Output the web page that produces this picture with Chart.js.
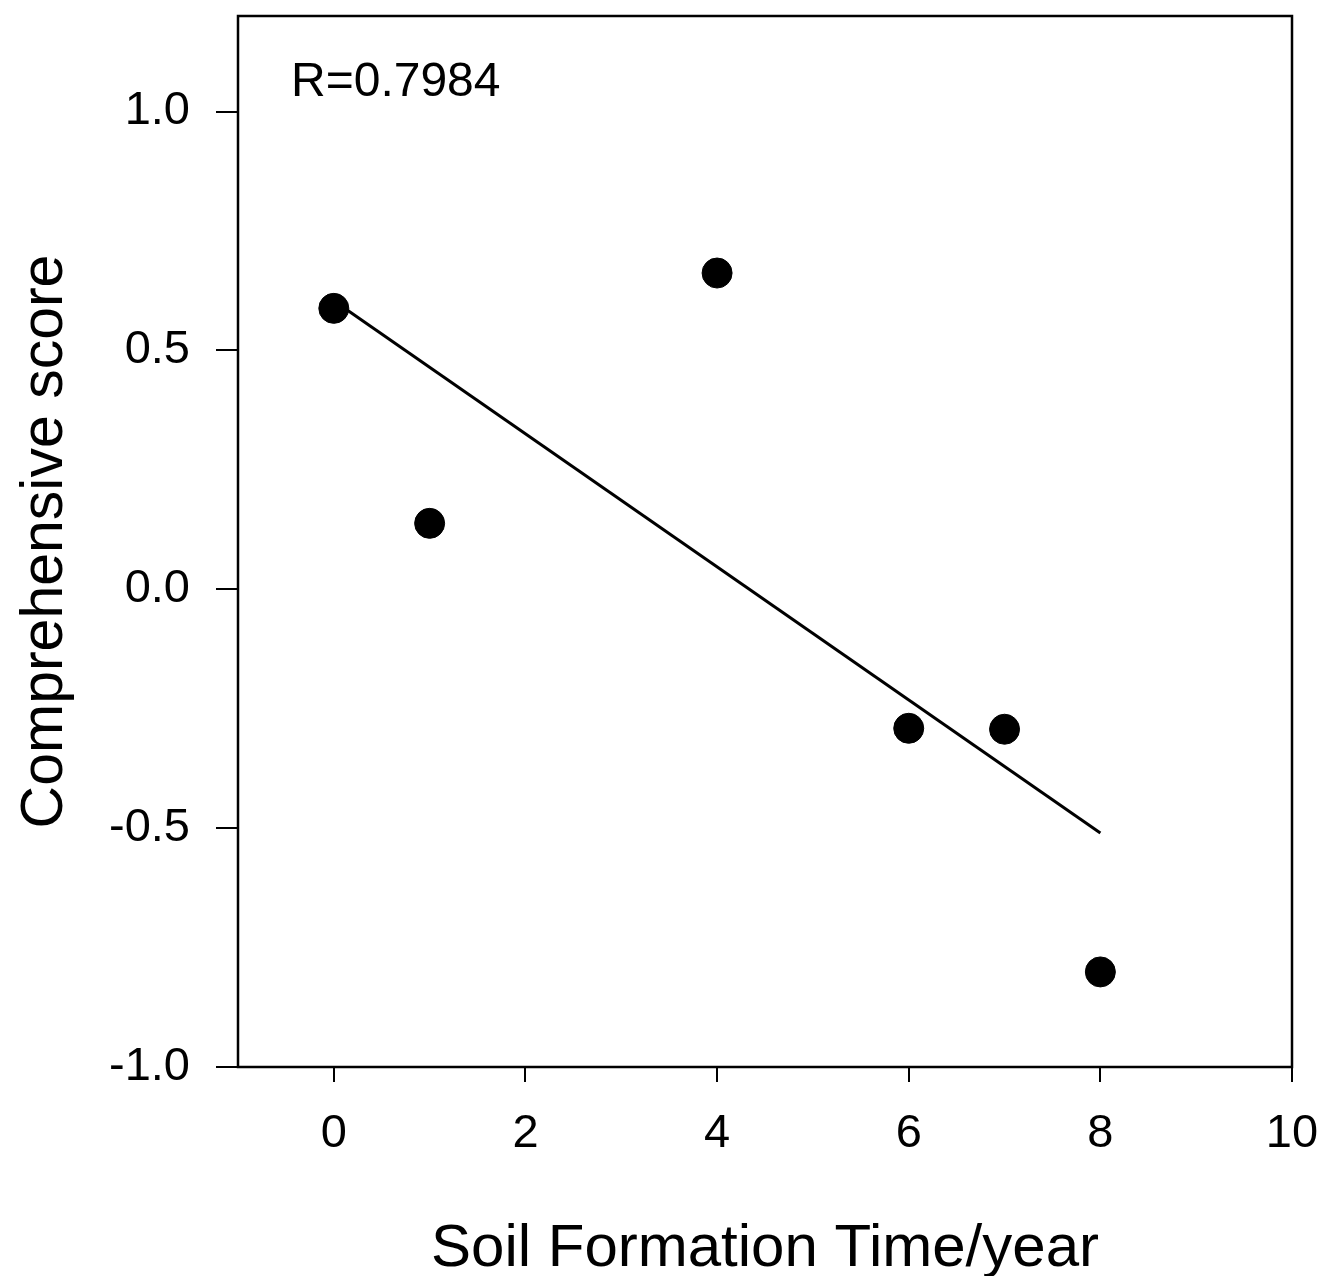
<!DOCTYPE html>
<html>
<head>
<meta charset="utf-8">
<script src="https://cdn.jsdelivr.net/npm/chart.js@4.4.1/dist/chart.umd.min.js"></script>
<style>
    html, body { margin: 0; padding: 0; background: #fff; }
    #wrap { width: 1323px; height: 1276px; }
</style>
</head>
<body>
<div id="wrap"><canvas id="chart" width="1323" height="1276"></canvas></div>
<script>
// Data
const years = [0, 1, 4, 6, 7, 8];
const scores = [0.588, 0.138, 0.662, -0.291, -0.293, -0.801];
// fitted line end points
const fitYears = [0, 8];
const fitScores = [0.604, -0.51];
// tick labels
const xTicks = [0, 2, 4, 6, 8, 10];
const yTicks = [-1.0, -0.5, 0.0, 0.5, 1.0];
const rText = 'R=0.7984';

const FONT = '"Liberation Sans", Arial, sans-serif';

// box around the plot + R label
const framePlugin = {
    id: 'frame',
    afterDraw(chart) {
        const { ctx, chartArea } = chart;
        ctx.save();
        ctx.strokeStyle = '#000';
        ctx.lineWidth = 2.5;
        ctx.strokeRect(chartArea.left, chartArea.top, chartArea.right - chartArea.left, chartArea.bottom - chartArea.top);
        ctx.fillStyle = '#000';
        ctx.font = '48px ' + FONT;
        ctx.textAlign = 'left';
        ctx.textBaseline = 'alphabetic';
        ctx.fillText(rText, chartArea.left + 53, chartArea.top + 80);
        ctx.restore();
    }
};

const ctx = document.getElementById('chart').getContext('2d');
new Chart(ctx, {
    type: 'scatter',
    data: {
        datasets: [
            {
                label: 'Comprehensive score',
                data: years.map((x, i) => ({ x: x, y: scores[i] })),
                backgroundColor: '#000',
                borderColor: '#000',
                pointRadius: 15,
                pointBorderWidth: 1,
                showLine: false
            },
            {
                label: 'Fit',
                data: fitYears.map((x, i) => ({ x: x, y: fitScores[i] })),
                type: 'line',
                borderColor: '#000',
                borderWidth: 3,
                pointRadius: 0,
                fill: false,
                tension: 0
            }
        ]
    },
    options: {
        responsive: false,
        animation: false,
        layout: {
            padding: { left: 0, top: 13, right: 31, bottom: 0 }
        },
        plugins: {
            legend: { display: false },
            tooltip: { enabled: false }
        },
        scales: {
            x: {
                type: 'linear',
                min: -1,
                max: 10,
                afterBuildTicks: (scale) => { scale.ticks = xTicks.map(v => ({ value: v })); },
                afterFit: (scale) => {
                    scale.height = 209;
                    scale.paddingLeft = 0;
                    scale.paddingRight = 0;
                },
                border: { display: false },
                grid: {
                    drawOnChartArea: false,
                    drawTicks: true,
                    tickLength: 15,
                    color: '#000',
                    lineWidth: 2
                },
                ticks: {
                    color: '#000',
                    padding: 24,
                    maxRotation: 0,
                    font: { family: FONT, size: 47 },
                    callback: (v) => String(v)
                },
                title: {
                    display: true,
                    text: 'Soil Formation Time/year',
                    color: '#000',
                    font: { family: FONT, size: 60, lineHeight: 0.9 },
                    padding: { top: 0, bottom: 0 }
                }
            },
            y: {
                type: 'linear',
                min: -1,
                max: 1.2,
                afterBuildTicks: (scale) => { scale.ticks = yTicks.map(v => ({ value: v })); },
                afterFit: (scale) => {
                    scale.width = 238;
                    scale.paddingTop = 0;
                    scale.paddingBottom = 0;
                },
                border: { display: false },
                grid: {
                    drawOnChartArea: false,
                    drawTicks: true,
                    tickLength: 22,
                    color: '#000',
                    lineWidth: 2
                },
                ticks: {
                    color: '#000',
                    padding: 26,
                    font: { family: FONT, size: 47 },
                    callback: (v) => v.toFixed(1)
                },
                title: {
                    display: true,
                    text: 'Comprehensive score',
                    color: '#000',
                    font: { family: FONT, size: 59, lineHeight: 1.0 },
                    padding: { top: 16, bottom: 0 }
                }
            }
        }
    },
    plugins: [framePlugin]
});
</script>
</body>
</html>
